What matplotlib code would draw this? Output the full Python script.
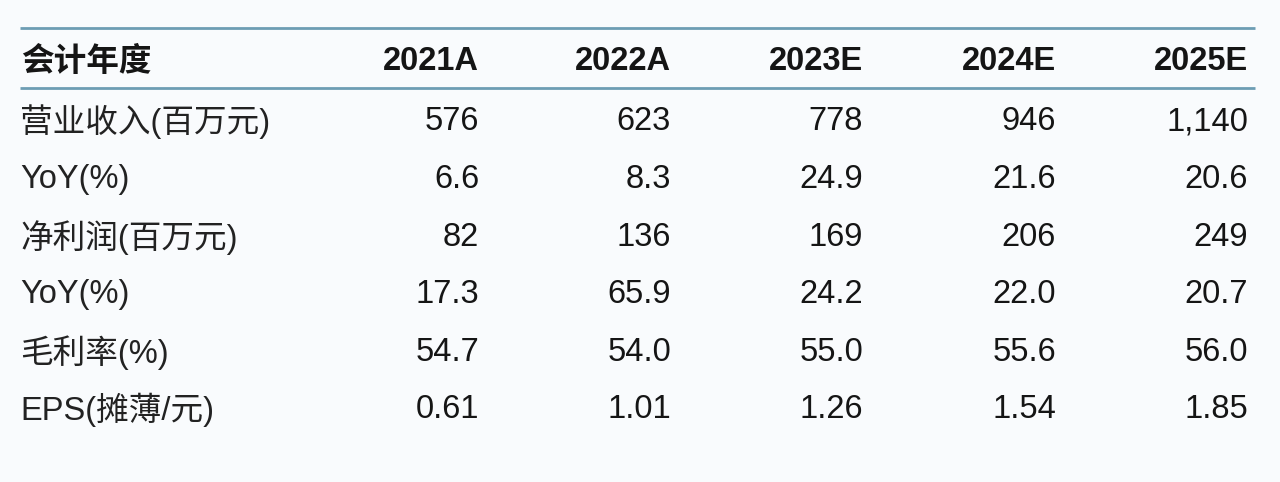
import matplotlib
matplotlib.use("Agg")
import matplotlib.pyplot as plt

plt.rcParams['font.family'] = ['Liberation Sans', 'Noto Sans CJK SC', 'DejaVu Sans']

# ---- data ----
header_label = "会计年度"
years = ["2021A", "2022A", "2023E", "2024E", "2025E"]
row_labels = ["营业收入(百万元)", "YoY(%)", "净利润(百万元)", "YoY(%)", "毛利率(%)", "EPS(摊薄/元)"]
revenue = [576, 623, 778, 946, 1140]
revenue_yoy = [6.6, 8.3, 24.9, 21.6, 20.6]
net_profit = [82, 136, 169, 206, 249]
profit_yoy = [17.3, 65.9, 24.2, 22.0, 20.7]
gross_margin = [54.7, 54.0, 55.0, 55.6, 56.0]
eps = [0.61, 1.01, 1.26, 1.54, 1.85]

rows = [
    [f"{v:,.0f}" for v in revenue],
    [f"{v:.1f}" for v in revenue_yoy],
    [f"{v:,.0f}" for v in net_profit],
    [f"{v:.1f}" for v in profit_yoy],
    [f"{v:.1f}" for v in gross_margin],
    [f"{v:.2f}" for v in eps],
]

# ---- layout ----
W, H = 1280, 482
fig = plt.figure(figsize=(W / 100, H / 100), dpi=100)
bg = "#f9fbfd"
fig.patch.set_facecolor(bg)
ax = fig.add_axes([0, 0, 1, 1])
ax.set_facecolor(bg)
ax.set_xlim(0, W)
ax.set_ylim(H, 0)
ax.axis("off")

line_color = "#6d9db4"
left_x = 20
right_x = 1255
col_right = [479, 671, 863, 1056, 1248]
header_y = 62
row_y0 = 122
row_step = 57.6

ax.plot([left_x, right_x], [28, 28], color=line_color, lw=2.0, solid_capstyle="butt")
ax.plot([left_x, right_x], [88, 88], color=line_color, lw=2.0, solid_capstyle="butt")

txt_color = "#151515"
ax.text(left_x + 1, header_y, header_label, fontsize=23.5, fontweight="bold",
        ha="left", va="center", color=txt_color)
for x, yr in zip(col_right, years):
    ax.text(x, header_y, yr, fontsize=23.5, fontweight="bold",
            ha="right", va="center", color=txt_color)

for i, (lab, vals) in enumerate(zip(row_labels, rows)):
    y = row_y0 + i * row_step
    ax.text(left_x, y, lab, fontsize=23.5, ha="left", va="center", color="#222222",
            fontweight="light")
    for x, v in zip(col_right, vals):
        ax.text(x, y, v, fontsize=23.5, ha="right", va="center", color=txt_color)

fig.savefig("out.png", dpi=100, facecolor=bg)
